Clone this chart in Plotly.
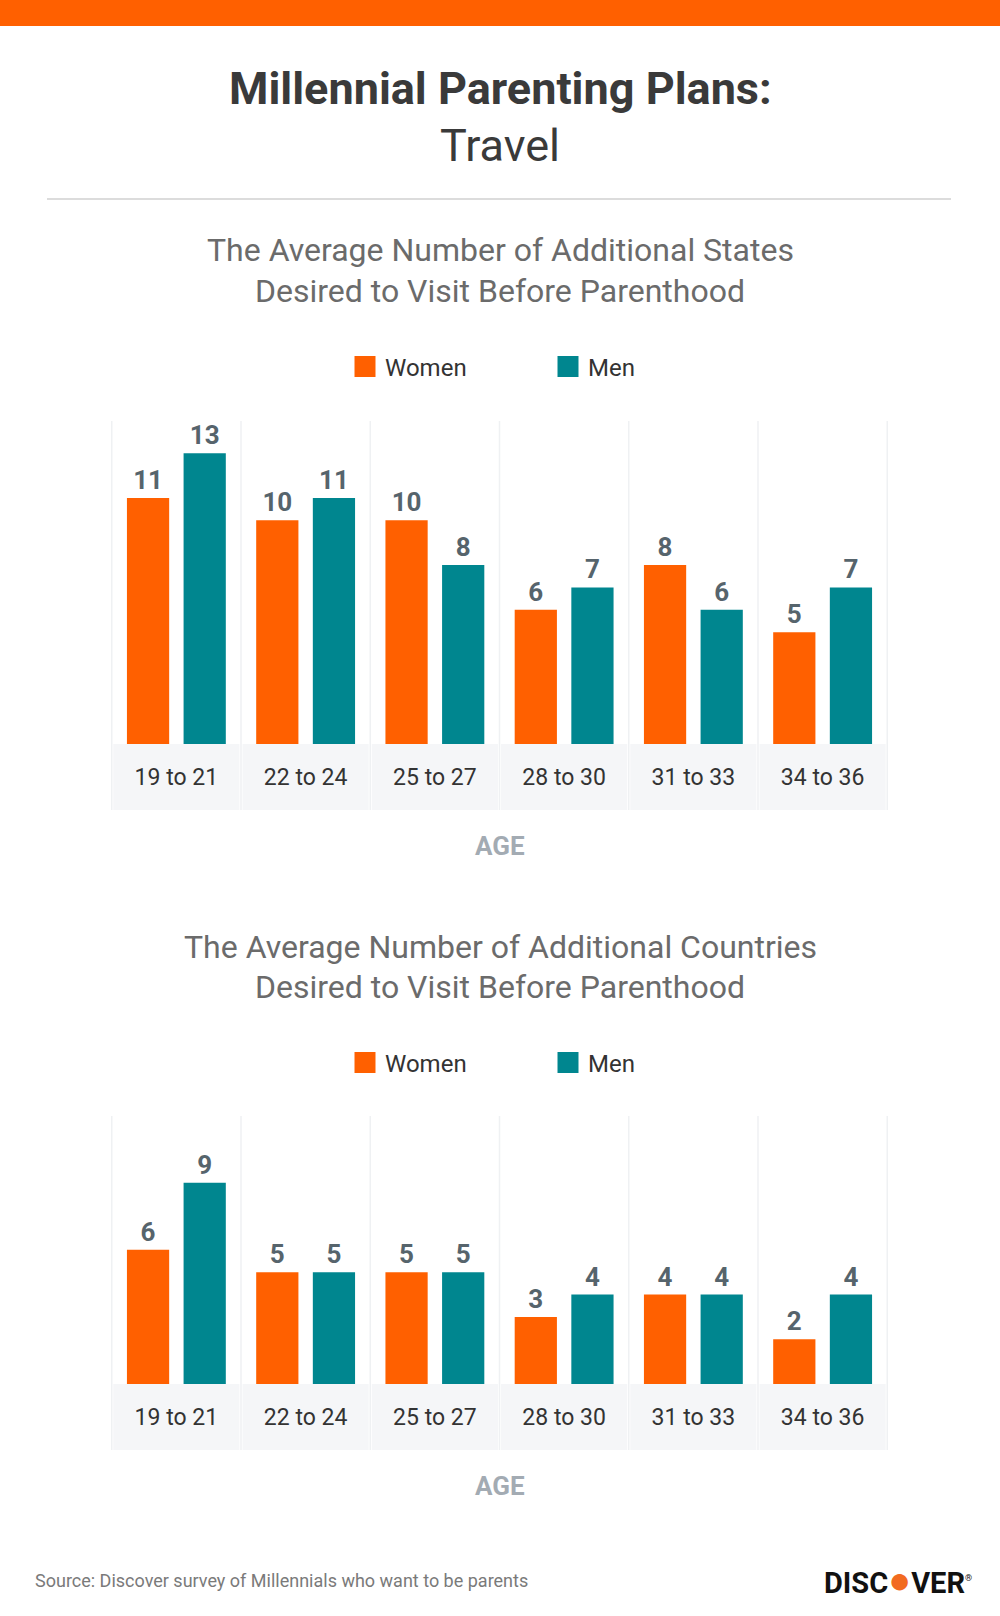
import plotly.graph_objects as go

ages = ["19 to 21", "22 to 24", "25 to 27", "28 to 30", "31 to 33", "34 to 36"]
states_women = [11, 10, 10, 6, 8, 5]
states_men = [13, 11, 8, 7, 6, 7]
countries_women = [6, 5, 5, 3, 4, 2]
countries_men = [9, 5, 5, 4, 4, 4]

ORANGE = "#FF6000"
TEAL = "#00868F"
FONT = "Roboto, 'Open Sans', sans-serif"
H = 1616.0


def py(px):
    return 1 - px / H


fig = go.Figure()

charts = [
    dict(xa="x", ya="y", leg="legend", women=states_women, men=states_men,
         base=744, top=421, band=810, rng=14.44),
    dict(xa="x2", ya="y2", leg="legend2", women=countries_women, men=countries_men,
         base=1384, top=1116, band=1450, rng=11.98),
]

shapes = []
for c in charts:
    for name, vals, col in (("Women", c["women"], ORANGE), ("Men", c["men"], TEAL)):
        fig.add_trace(go.Bar(
            x=ages, y=vals, name=name, marker=dict(color=col, line=dict(width=0)),
            xaxis=c["xa"], yaxis=c["ya"], showlegend=False, offsetgroup=name,
            text=vals, texttemplate="%{y}", textposition="outside",
            textfont=dict(family=FONT, size=26, color="#56646C", weight="bold"),
            cliponaxis=False, hoverinfo="skip",
        ))
        fig.add_trace(go.Scatter(
            x=[None], y=[None], mode="markers", name=name,
            marker=dict(symbol="square", size=16, color=col, line=dict(color=col, width=5)),
            xaxis=c["xa"], yaxis=c["ya"], legend=c["leg"], showlegend=True,
        ))
    # column panels
    for i in range(len(ages)):
        shapes.append(dict(type="rect", xref=c["xa"], yref="paper",
                           x0=i - 0.5 + 0.012, x1=i + 0.5 - 0.012,
                           y0=py(c["band"]), y1=py(c["base"]),
                           fillcolor="#F5F6F8", line=dict(width=0), layer="below"))
    for i in range(len(ages) + 1):
        shapes.append(dict(type="line", xref=c["xa"], yref="paper",
                           x0=i - 0.5, x1=i - 0.5,
                           y0=py(c["band"]), y1=py(c["top"]),
                           line=dict(color="#EFF1F3", width=1.5), layer="below"))

# top orange band and separator
shapes.append(dict(type="rect", xref="paper", yref="paper", x0=0, x1=1, y0=py(26), y1=1,
                   fillcolor=ORANGE, line=dict(width=0)))
shapes.append(dict(type="line", xref="paper", yref="paper", x0=0.047, x1=0.951,
                   y0=py(199), y1=py(199), line=dict(color="#DCDCDC", width=2)))

annotations = [
    dict(text="<b>Millennial Parenting Plans:</b>", x=0.5, y=py(89), font=dict(size=45, color="#3A3A3A")),
    dict(text="Travel", x=0.5, y=py(145), font=dict(size=45, color="#3A3A3A")),
    dict(text="The Average Number of Additional States", x=0.5, y=py(250), font=dict(size=32, color="#6B6B6B")),
    dict(text="Desired to Visit Before Parenthood", x=0.5, y=py(291), font=dict(size=32, color="#6B6B6B")),
    dict(text="<b>AGE</b>", x=0.5, y=py(846), font=dict(size=26, color="#A3ABB3")),
    dict(text="The Average Number of Additional Countries", x=0.5, y=py(947), font=dict(size=32, color="#6B6B6B")),
    dict(text="Desired to Visit Before Parenthood", x=0.5, y=py(987), font=dict(size=32, color="#6B6B6B")),
    dict(text="<b>AGE</b>", x=0.5, y=py(1486), font=dict(size=26, color="#A3ABB3")),
    dict(text="Source: Discover survey of Millennials who want to be parents", x=0.033, xanchor="left",
         y=py(1580), font=dict(size=18, color="#7A7A7A")),
    dict(text="<b>DISC<span style='color:#F26B21;font-size:38px'>●</span>VER</b>"
              "<sup><span style='font-size:9px'>®</span></sup>",
         x=0.974, xanchor="right", y=py(1580), font=dict(size=29, color="#111111")),
]
for a in annotations:
    a.setdefault("xanchor", "center")
    a.update(xref="paper", yref="paper", yanchor="middle", showarrow=False)
    a["font"]["family"] = FONT

axis_x = dict(type="category", showgrid=False, zeroline=False, showline=False, ticks="",
              tickfont=dict(family=FONT, size=23, color="#333333"), ticklabelstandoff=17,
              domain=[0.111, 0.888], fixedrange=True)
axis_y = dict(showgrid=False, zeroline=False, showline=False, showticklabels=False, fixedrange=True)

legend_common = dict(orientation="h", xanchor="left", yanchor="middle", x=0.345,
                     font=dict(family=FONT, size=24, color="#333333"),
                     bgcolor="rgba(0,0,0,0)", entrywidth=158, entrywidthmode="pixels",
                     itemclick=False, itemdoubleclick=False)

fig.update_layout(
    width=1000, height=1616, margin=dict(l=0, r=0, t=0, b=0),
    paper_bgcolor="white", plot_bgcolor="rgba(0,0,0,0)",
    barmode="group", bargap=0.1235, bargroupgap=0.2545,
    font=dict(family=FONT),
    xaxis=dict(axis_x, anchor="y"),
    yaxis=dict(axis_y, domain=[py(744), py(421)], range=[0, 14.44], anchor="x"),
    xaxis2=dict(axis_x, anchor="y2"),
    yaxis2=dict(axis_y, domain=[py(1384), py(1116)], range=[0, 11.98], anchor="x2"),
    legend=dict(legend_common, y=py(367)),
    legend2=dict(legend_common, y=py(1063)),
    shapes=shapes, annotations=annotations,
    showlegend=True,
)

fig.write_html("out.html", config={"displayModeBar": False},
               post_script="document.body.style.margin='0';")
